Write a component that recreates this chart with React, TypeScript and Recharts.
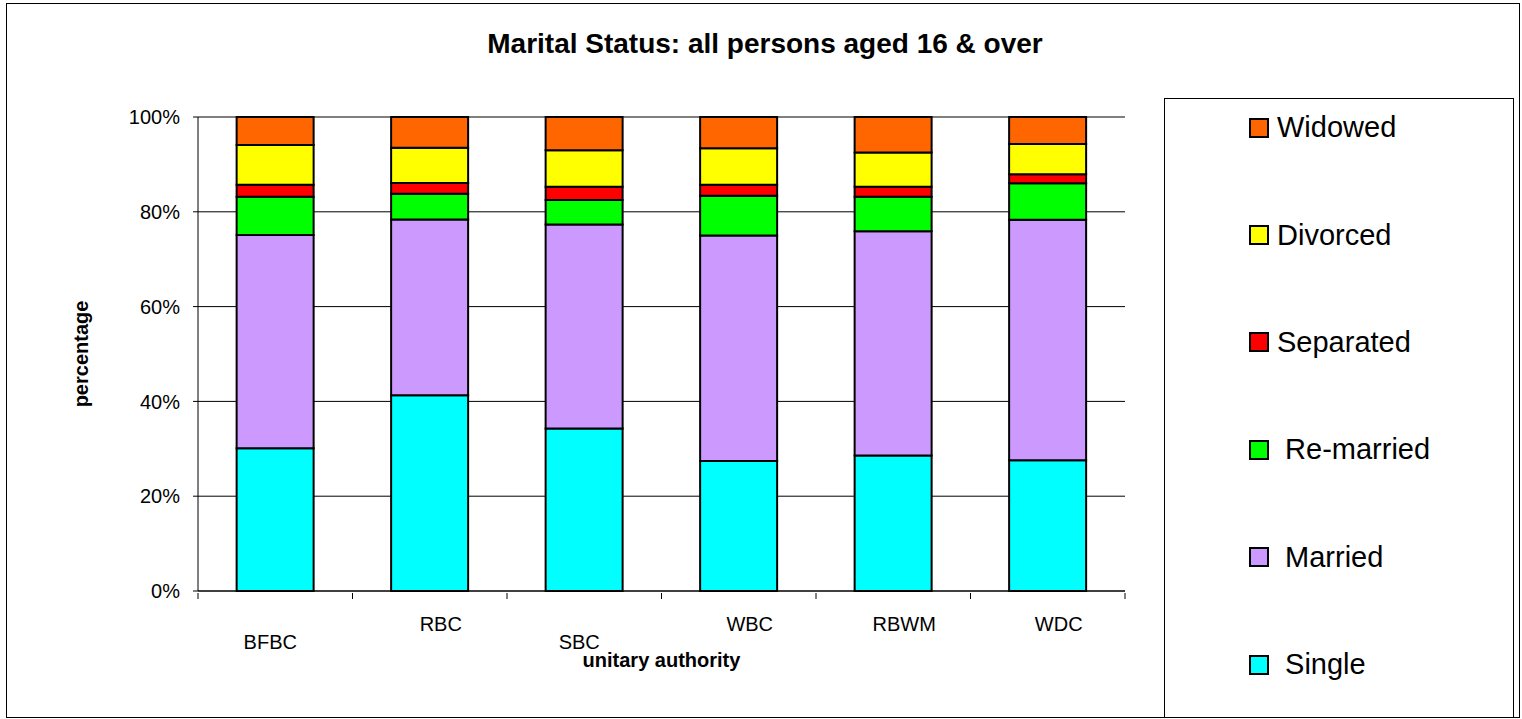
import { Bar, BarChart, CartesianGrid, XAxis, YAxis } from 'recharts';

const AUTHORITIES = ['BFBC', 'RBC', 'SBC', 'WBC', 'RBWM', 'WDC'];
const SINGLE = [30.1, 41.3, 34.3, 27.4, 28.6, 27.6];
const MARRIED = [45.0, 37.1, 43.0, 47.6, 47.3, 50.7];
const REMARRIED = [8.1, 5.4, 5.2, 8.4, 7.3, 7.7];
const SEPARATED = [2.5, 2.3, 2.8, 2.3, 2.1, 1.9];
const DIVORCED = [8.4, 7.4, 7.7, 7.7, 7.2, 6.4];
const WIDOWED = [5.9, 6.5, 7.0, 6.6, 7.5, 5.7];
const Y_TICKS = [0, 0.2, 0.4, 0.6, 0.8, 1];

// stacking order, bottom to top (legend shows it reversed)
const SERIES = [
  { key: 'single', label: ' Single', values: SINGLE, color: '#00ffff' },
  { key: 'married', label: ' Married', values: MARRIED, color: '#cc99ff' },
  { key: 'remarried', label: ' Re-married', values: REMARRIED, color: '#00ff00' },
  { key: 'separated', label: 'Separated', values: SEPARATED, color: '#ff0000' },
  { key: 'divorced', label: 'Divorced', values: DIVORCED, color: '#ffff00' },
  { key: 'widowed', label: 'Widowed', values: WIDOWED, color: '#ff6600' },
];

const FONT = '"Liberation Sans", Arial, sans-serif';
const CHART_W = 1164;
const CHART_H = 719;
const MARGIN = { top: 117, right: 39, bottom: 98, left: 98 };
const PLOT_W = CHART_W - MARGIN.left - MARGIN.right - 100;
const BAND = PLOT_W / AUTHORITIES.length;

const data = AUTHORITIES.map((name, i) => {
  const row: Record<string, string | number> = { name };
  SERIES.forEach((s) => {
    row[s.key] = s.values[i];
  });
  return row;
});

function AuthorityTick({ x, y, payload, index }: any) {
  const i = index ?? payload.index;
  // Excel staggered these labels
  const lowered = i === 0 || i === 2;
  const half = BAND / 2;
  return (
    <g>
      <line x1={x - half} x2={x - half} y1={y} y2={y + 6} stroke="#000" />
      {i === AUTHORITIES.length - 1 && (
        <line x1={x + half} x2={x + half} y1={y} y2={y + 6} stroke="#000" />
      )}
      <text
        x={x + (lowered ? -5 : 11)}
        y={y + (lowered ? 56 : 38)}
        textAnchor="middle"
        fontSize={20}
        fontFamily={FONT}
        fill="#000"
      >
        {payload.value}
      </text>
    </g>
  );
}

export default function App() {
  return (
    <div style={{ position: 'absolute', left: 0, top: 0, width: 1522, height: 719, background: '#fff', fontFamily: FONT }}>
      <div
        style={{
          position: 'absolute',
          left: 6,
          top: 3,
          width: 1514,
          height: 715,
          border: '1px solid #000',
          boxSizing: 'border-box',
        }}
      />
      <div
        style={{
          position: 'absolute',
          left: 0,
          top: 28,
          width: 1530,
          textAlign: 'center',
          fontSize: 28,
          fontWeight: 'bold',
          color: '#000',
        }}
      >
        Marital Status: all persons aged 16 &amp; over
      </div>
      <div style={{ position: 'absolute', left: 0, top: 0 }}>
        <BarChart
          width={CHART_W}
          height={CHART_H}
          data={data}
          margin={MARGIN}
          stackOffset="expand"
          barCategoryGap="25%"
        >
          <CartesianGrid vertical={false} stroke="#000" strokeWidth={1} />
          <XAxis
            dataKey="name"
            height={30}
            tickSize={0}
            tickLine={false}
            axisLine={{ stroke: '#000' }}
            tick={<AuthorityTick />}
            interval={0}
            label={{
              content: ({ viewBox }: any) => (
                <text
                  x={viewBox.x + viewBox.width / 2}
                  y={viewBox.y + 76}
                  textAnchor="middle"
                  fontSize={20}
                  fontWeight="bold"
                  fontFamily={FONT}
                  fill="#000"
                >
                  unitary authority
                </text>
              ),
            }}
          />
          <YAxis
            width={100}
            domain={[0, 1]}
            ticks={Y_TICKS}
            tickFormatter={(v) => `${Math.round(v * 100)}%`}
            tickSize={5}
            tickMargin={13}
            tickLine={{ stroke: '#000' }}
            axisLine={{ stroke: '#000' }}
            tick={{ fontSize: 20, fill: '#000', fontFamily: FONT }}
            label={{
              content: ({ viewBox }: any) => (
                <text
                  transform={`translate(${viewBox.x - 10}, ${viewBox.y + viewBox.height / 2}) rotate(-90)`}
                  textAnchor="middle"
                  fontSize={20}
                  fontWeight="bold"
                  fontFamily={FONT}
                  fill="#000"
                >
                  percentage
                </text>
              ),
            }}
          />
          {SERIES.map((s) => (
            <Bar
              key={s.key}
              dataKey={s.key}
              name={s.label.trim()}
              stackId="a"
              fill={s.color}
              stroke="#000"
              strokeWidth={2}
              isAnimationActive={false}
            />
          ))}
        </BarChart>
      </div>
      <div
        style={{
          position: 'absolute',
          left: 1164,
          top: 98,
          width: 350,
          height: 620,
          border: '1px solid #000',
          boxSizing: 'border-box',
          background: '#fff',
        }}
      />
      <div style={{ position: 'absolute', left: 1249, top: 74 }}>
        {[...SERIES].reverse().map((s) => (
          <div key={s.key} style={{ height: 107.4, display: 'flex', alignItems: 'center' }}>
            <span
              style={{
                width: 20,
                height: 20,
                boxSizing: 'border-box',
                border: '2px solid #000',
                background: s.color,
                marginRight: 8,
                flex: 'none',
              }}
            />
            <span style={{ fontSize: 29, whiteSpace: 'pre', color: '#000', lineHeight: 1 }}>{s.label}</span>
          </div>
        ))}
      </div>
    </div>
  );
}
